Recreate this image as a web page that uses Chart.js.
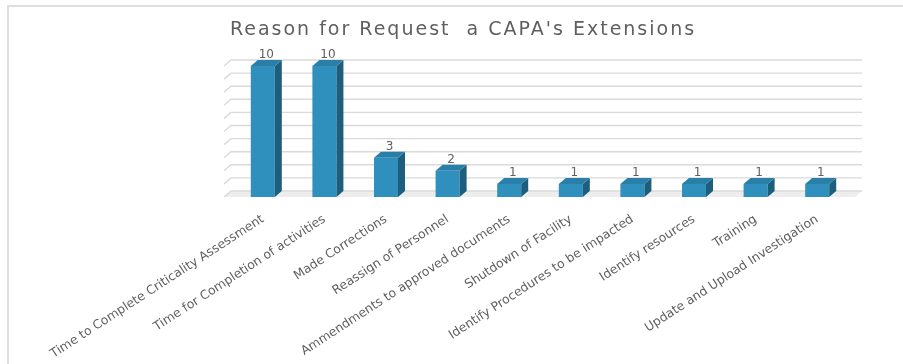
<!DOCTYPE html>
<html lang="en">
<head>
<meta charset="UTF-8">
<title>Reason for Request a CAPA's Extensions</title>
<script src="https://cdn.jsdelivr.net/npm/chart.js@4.4.1/dist/chart.umd.min.js"></script>
<style>
    html, body { margin: 0; padding: 0; background: #fff; }
    #wrap { position: relative; width: 903px; height: 364px; overflow: hidden; }
    #frame { position: absolute; left: 7px; top: 5px; width: 1000px; height: 400px; border-top: 2px solid #dedede; border-left: 2px solid #dedede; }
    #c { position: absolute; left: 0; top: 0; }
</style>
</head>
<body>
<div id="wrap">
    <div id="frame"></div>
    <canvas id="c" width="903" height="364"></canvas>
</div>
<script>
    var chartTitle = "Reason for Request  a CAPA's Extensions";
    var reasons = [
        'Time to Complete Criticality Assessment',
        'Time for Completion of activities',
        'Made Corrections',
        'Reassign of Personnel',
        'Ammendments to approved documents',
        'Shutdown of Facility',
        'Identify Procedures to be impacted',
        'Identify resources',
        'Training',
        'Update and Upload Investigation'
    ];
    var counts = [10, 10, 3, 2, 1, 1, 1, 1, 1, 1];
    var yMin = 0, yMax = 10, yStep = 1;

    var textColor = '#5f5f5f';
    var DX = 7, DY = -6;   // depth of the 3d look

    var bar3d = {
        id: 'bar3d',
        beforeDatasetsDraw: function(chart) {
            var ctx = chart.ctx, a = chart.chartArea, y = chart.scales.y;
            var fl = a.left - 8, br = a.right + 14;
            var b = y.getPixelForValue(yMin);
            ctx.save();
            // floor
            ctx.fillStyle = '#ededed';
            ctx.beginPath();
            ctx.moveTo(fl, b);
            ctx.lineTo(br - DX, b);
            ctx.lineTo(br, b + DY);
            ctx.lineTo(fl + DX, b + DY);
            ctx.closePath();
            ctx.fill();
            // back wall + side wall grid
            ctx.strokeStyle = '#dadada';
            ctx.lineWidth = 1.4;
            for (var v = yMin; v <= yMax; v += yStep) {
                var yf = y.getPixelForValue(v);
                ctx.beginPath();
                ctx.moveTo(fl, yf);
                ctx.lineTo(fl + DX, yf + DY);
                ctx.lineTo(br, yf + DY);
                ctx.stroke();
            }
            ctx.restore();
        },
        afterDatasetsDraw: function(chart) {
            var ctx = chart.ctx;
            var meta = chart.getDatasetMeta(0);
            ctx.save();
            meta.data.forEach(function(el, i) {
                var p = el.getProps(['x', 'y', 'base', 'width'], true);
                var l = p.x - p.width / 2, r = p.x + p.width / 2;
                ctx.fillStyle = '#1d5e7d';
                ctx.beginPath();
                ctx.moveTo(r, p.y);
                ctx.lineTo(r + DX, p.y + DY);
                ctx.lineTo(r + DX, p.base + DY);
                ctx.lineTo(r, p.base);
                ctx.closePath();
                ctx.fill();
                ctx.fillStyle = '#2a7fa8';
                ctx.beginPath();
                ctx.moveTo(l, p.y);
                ctx.lineTo(l + DX, p.y + DY);
                ctx.lineTo(r + DX, p.y + DY);
                ctx.lineTo(r, p.y);
                ctx.closePath();
                ctx.fill();
                ctx.fillStyle = textColor;
                ctx.font = '12px "DejaVu Sans"';
                ctx.textAlign = 'center';
                ctx.textBaseline = 'bottom';
                ctx.fillText(String(counts[i]), p.x + DX / 2, p.y + DY + 1);
            });
            ctx.restore();
        },
        afterDraw: function(chart) {
            var ctx = chart.ctx;
            ctx.save();
            ctx.fillStyle = textColor;
            ctx.font = '19px "DejaVu Sans"';
            ctx.letterSpacing = '2px';
            ctx.textAlign = 'center';
            ctx.textBaseline = 'middle';
            ctx.fillText(chartTitle, 463, 30);
            ctx.restore();
        }
    };

    new Chart(document.getElementById('c'), {
        type: 'bar',
        data: {
            labels: reasons,
            datasets: [{
                data: counts,
                backgroundColor: '#2f90bd',
                borderWidth: 0,
                categoryPercentage: 1,
                barPercentage: 0.39
            }]
        },
        options: {
            responsive: false,
            animation: false,
            layout: { padding: { left: 232, right: 55, top: 66, bottom: 0 } },
            plugins: {
                legend: { display: false },
                tooltip: { enabled: false },
                title: { display: false }
            },
            scales: {
                x: {
                    grid: { display: false },
                    border: { display: false },
                    ticks: {
                        color: textColor,
                        font: { family: 'DejaVu Sans', size: 12.4 },
                        minRotation: 33,
                        maxRotation: 33,
                        padding: 7
                    },
                    afterFit: function(s) { s.height = 167; }
                },
                y: {
                    display: false,
                    min: yMin,
                    max: yMax,
                    ticks: { stepSize: yStep }
                }
            }
        },
        plugins: [bar3d]
    });
</script>
</body>
</html>
